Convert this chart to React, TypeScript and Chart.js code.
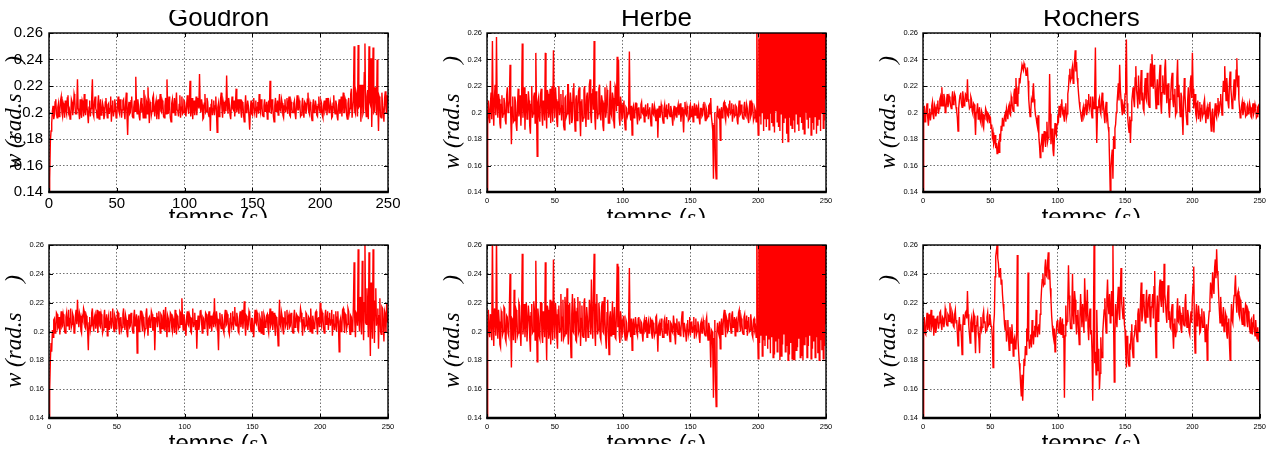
import React, { useEffect, useRef } from 'react';
import { Chart, registerables } from 'chart.js';

Chart.register(...registerables);

// Angular speed samples in milli rad/s, one sample every 0.5 s (t = 0 … 250 s)
const SAMPLE_PERIOD_S = 0.5;
const TIME_MIN = 0;
const TIME_MAX = 250;
const TIME_STEP = 50;
const W_MIN = 140;
const W_MAX = 260;
const W_STEP = 20;

const goudronTop = [
  0,150, 178,186, 192,201, 205,195, 198,208, 210,199, 196,204, 207,197, 201,209, 212,200,
  197,207, 205,196, 209,202, 199,211, 213,200, 202,195, 196,210, 208,198, 203,214, 211,199,
  199,206, 225,203, 201,195, 210,200, 196,209, 207,197, 214,202, 198,210, 205,199, 192,204,
  209,197, 203,211, 225,199, 197,208, 212,203, 201,196, 206,213, 195,204, 210,198, 200,207,
  204,195, 198,208, 211,202, 196,206, 207,199, 203,212, 193,205, 209,197, 201,210, 205,196,
  197,206, 212,201, 199,210, 206,196, 202,209, 210,200, 195,207, 215,198, 183,203, 208,199,
  200,209, 212,197, 196,204, 209,201, 227,206, 199,210, 205,197, 194,206, 211,200, 203,196,
  217,204, 196,210, 208,199, 219,203, 192,208, 206,198, 201,211, 213,202, 197,206, 209,195,
  202,210, 195,206, 214,201, 200,209, 207,197, 196,205, 211,199, 225,204, 199,212, 205,196,
  193,207, 210,200, 203,211, 198,206, 215,202, 201,197, 206,213, 196,204, 212,199, 200,209,
  208,200, 197,206, 213,203, 199,208, 224,197, 202,211, 195,205, 209,198, 204,212, 198,207,
  211,203, 229,205, 200,210, 206,195, 196,207, 214,200, 201,211, 208,199, 197,204, 186,206,
  210,198, 203,209, 198,205, 212,200, 185,204, 207,197, 201,210, 215,203, 196,208, 205,199,
  209,201, 228,207, 199,211, 206,198, 195,205, 212,203, 202,209, 197,206, 218,200, 204,210,
  199,206, 210,201, 196,208, 207,198, 193,204, 213,200, 201,209, 205,196, 187,202, 209,199,
  198,207, 211,200, 203,209, 196,204, 208,199, 214,203, 200,210, 206,198, 197,205, 210,201,
  202,208, 195,204, 209,200, 224,206, 199,210, 206,197, 193,205, 211,201, 203,209, 198,206,
  214,202, 201,210, 207,198, 196,205, 210,200, 204,211, 199,206, 212,198, 197,208, 205,200,
  200,207, 209,199, 195,206, 213,202, 202,209, 206,197, 198,205, 211,201, 196,208, 207,199,
  203,210, 215,201, 199,208, 206,197, 194,205, 210,200, 201,209, 205,198, 197,206, 212,202,
  200,209, 207,198, 196,205, 209,201, 203,211, 198,206, 211,200, 201,208, 205,196, 197,207,
  213,201, 199,209, 206,197, 194,205, 210,199, 202,212, 197,206, 215,200, 200,210, 208,198,
  195,207, 211,200, 203,214, 218,196, 196,209, 250,201, 199,215, 212,197, 251,204, 205,221,
  193,210, 221,199, 201,230, 252,203, 197,212, 217,195, 250,208, 206,241, 189,213, 249,200,
  201,219, 214,198, 240,206, 186,212, 210,197, 196,215, 205,200, 193,211, 216,203, 199,213,
  207,
];

const herbeTop = [
  0,190, 209,199, 192,206, 215,195, 254,203, 190,212, 221,198, 257,205, 196,214, 210,192,
  188,206, 213,196, 199,211, 207,194, 191,213, 219,200, 203,209, 236,198, 176,204, 212,193,
  194,212, 208,191, 186,205, 218,197, 201,213, 190,207, 252,196, 205,219, 187,209, 214,195,
  197,216, 209,190, 184,206, 220,196, 199,212, 215,192, 245,204, 167,208, 211,197, 193,214,
  218,198, 190,209, 206,194, 245,203, 188,217, 214,196, 201,218, 192,205, 220,193, 247,206,
  196,219, 210,193, 189,208, 220,198, 203,214, 194,205, 217,190, 187,211, 212,197, 199,221,
  221,200, 191,215, 208,192, 195,218, 222,199, 186,210, 213,194, 201,216, 219,197, 182,208,
  210,193, 196,217, 220,200, 189,212, 215,195, 203,221, 225,198, 192,214, 218,202, 254,197,
  187,216, 212,195, 199,218, 221,198, 194,213, 209,190, 186,207, 219,196, 201,217, 214,192,
  192,210, 224,199, 197,215, 211,193, 188,220, 218,201, 242,205, 240,196, 190,212, 206,195,
  196,207, 209,193, 187,204, 203,197, 199,206, 246,200, 194,205, 183,203, 205,196, 198,207,
  207,198, 191,203, 204,195, 196,206, 208,200, 199,204, 193,201, 206,197, 201,207, 195,202,
  204,196, 190,201, 207,199, 198,205, 202,194, 194,203, 181,200, 205,196, 199,206, 203,195,
  192,203, 206,197, 200,206, 195,202, 207,199, 197,205, 202,196, 190,201, 205,197, 199,204,
  196,203, 206,198, 201,207, 193,200, 204,196, 185,202, 208,199, 198,205, 202,194, 195,204,
  206,197, 199,205, 193,201, 207,198, 200,206, 196,202, 205,195, 191,203, 203,197, 198,206,
  208,199, 194,204, 202,196, 197,205, 206,199, 211,197, 192,186, 150,190, 200,160, 150,198,
  205,197, 196,203, 179,200, 204,196, 199,207, 208,197, 194,204, 203,198, 197,206, 209,199,
  200,207, 193,202, 206,197, 198,205, 204,194, 191,203, 209,198, 199,206, 202,196, 195,204,
  208,198, 197,206, 203,195, 192,204, 209,197, 199,207, 205,194, 196,203, 201,193, 275,204,
  183,256, 197,290, 191,295, 200,270, 186,300, 195,285, 189,288, 195,300, 187,265, 199,296,
  192,280, 190,300, 185,275, 201,295, 193,268, 189,297, 186,282, 199,300, 177,278, 192,293,
  196,285, 184,300, 178,290, 196,270, 190,298, 188,277, 194,300, 185,288, 199,296, 191,268,
  186,300, 197,283, 192,294, 187,276, 184,300, 200,287, 195,299, 188,272, 196,300, 183,280,
  192,298, 187,275, 197,290, 184,300, 190,283, 195,296, 186,278, 199,300, 188,291, 194,285,
  210,
];

const rochersTop = [
  0,198, 205,193, 196,203, 207,196, 190,199, 203,194, 199,205, 208,198, 195,206, 204,197,
  200,206, 209,199, 203,210, 212,205, 219,208, 205,214, 211,200, 202,209, 214,204, 207,212,
  210,205, 203,211, 216,206, 208,214, 212,204, 201,196, 186,203, 209,213, 215,207, 204,216,
  211,205, 207,214, 213,208, 225,210, 208,203, 204,212, 210,201, 199,207, 206,196, 183,200,
  201,207, 195,200, 204,194, 192,201, 199,190, 188,197, 196,203, 201,194, 193,199, 198,192,
  197,188, 191,182, 185,176, 178,183, 173,177, 169,172, 176,170, 184,178, 190,186, 196,190,
  192,197, 199,193, 203,200, 195,204, 206,199, 198,212, 209,203, 201,214, 218,207, 226,212,
  205,219, 214,226, 222,228, 231,236, 234,232, 237,235, 233,228, 230,234, 224,210, 203,197,
  200,210, 208,215, 222,210, 204,198, 196,192, 189,198, 182,175, 166,174, 178,184, 170,179,
  186,180, 174,185, 193,178, 181,190, 229,199, 176,184, 188,172, 167,179, 192,185, 183,191,
  198,192, 205,201, 196,206, 210,200, 202,197, 193,204, 207,196, 199,214, 218,228, 233,224,
  226,232, 235,222, 229,238, 247,231, 238,226, 221,214, 208,203, 200,196, 193,201, 204,197,
  199,206, 210,198, 202,209, 214,203, 206,212, 200,196, 212,207, 203,218, 249,205, 177,199,
  204,209, 211,201, 199,208, 215,204, 206,198, 192,203, 208,195, 197,189, 185,163, 140,158,
  166,172, 150,182, 173,188, 191,200, 206,214, 222,209, 236,218, 210,203, 198,206, 203,199,
  214,230, 255,207, 196,190, 185,197, 177,194, 208,214, 219,209, 204,226, 235,217, 212,203,
  228,213, 206,219, 232,209, 215,203, 201,218, 226,211, 209,230, 223,206, 204,229, 237,220,
  244,229, 218,236, 231,214, 203,217, 225,206, 212,227, 236,208, 199,215, 228,219, 214,233,
  240,221, 207,216, 222,203, 196,210, 215,225, 230,209, 204,213, 218,198, 200,226, 240,212,
  221,205, 197,215, 212,196, 183,208, 226,213, 204,197, 191,209, 219,201, 206,223, 228,211,
  245,218, 203,210, 214,199, 196,207, 209,195, 201,208, 193,203, 206,197, 199,207, 210,200,
  192,201, 204,195, 198,206, 208,194, 186,199, 203,192, 185,200, 207,198, 196,205, 211,199,
  201,208, 214,205, 198,212, 224,216, 235,221, 209,226, 218,207, 203,222, 231,219, 212,203,
  206,217, 225,209, 214,232, 241,219, 228,210, 203,196, 199,205, 208,198, 201,207, 205,197,
  198,204, 206,199, 200,207, 204,197, 196,203, 207,199, 201,206, 203,196, 197,204, 205,199,
  200,
];

const goudronBottom = [
  0,160, 180,192, 186,201, 196,208, 209,199, 200,213, 212,202, 203,210, 198,207, 214,203,
  204,212, 209,200, 199,210, 213,204, 206,215, 201,209, 216,203, 205,212, 210,199, 200,211,
  215,205, 222,209, 203,213, 211,201, 199,210, 208,216, 214,203, 202,211, 209,200, 187,206,
  210,201, 204,213, 216,205, 200,210, 212,202, 206,215, 199,208, 214,204, 203,212, 209,199,
  201,210, 215,203, 205,212, 197,208, 211,201, 207,214, 202,209, 216,204, 200,211, 209,202,
  205,214, 213,204, 198,209, 210,201, 203,212, 216,206, 201,211, 208,199, 196,207, 212,203,
  204,213, 209,201, 199,210, 215,204, 206,212, 185,207, 211,200, 203,214, 214,205, 200,210,
  208,199, 202,212, 216,206, 197,209, 210,203, 205,214, 212,201, 201,210, 187,204, 209,213,
  203,210, 214,205, 199,212, 211,202, 206,215, 201,208, 217,204, 196,211, 209,200, 204,213,
  212,203, 200,209, 207,199, 215,206, 198,211, 210,202, 203,214, 213,205, 223,208, 201,212,
  208,202, 197,210, 214,205, 204,212, 210,200, 199,209, 216,203, 206,213, 201,208, 188,205,
  211,201, 205,214, 215,207, 199,210, 209,202, 203,213, 212,204, 197,209, 214,202, 206,211,
  200,209, 211,203, 223,206, 204,214, 209,200, 187,208, 213,205, 202,212, 208,201, 199,210,
  215,204, 205,212, 210,200, 198,209, 213,203, 206,214, 201,210, 217,205, 204,213, 209,200,
  199,210, 214,203, 207,215, 202,209, 221,205, 197,211, 210,201, 205,214, 212,204, 200,209,
  209,201, 196,208, 215,206, 205,213, 211,202, 200,210, 208,199, 214,206, 198,212, 210,203,
  204,211, 212,202, 199,209, 216,204, 206,214, 201,208, 213,203, 197,210, 209,201, 190,207,
  222,205, 203,213, 210,201, 198,209, 214,204, 206,215, 201,210, 212,203, 204,213, 209,200,
  199,210, 215,203, 205,212, 211,201, 200,209, 208,216, 213,205, 197,208, 210,202, 204,213,
  212,204, 201,210, 209,200, 216,206, 199,211, 207,202, 203,213, 214,205, 198,209, 210,203,
  220,207, 204,213, 211,202, 199,210, 215,205, 206,214, 201,209, 213,204, 208,215, 197,208,
  212,201, 205,214, 200,210, 214,203, 186,207, 209,200, 203,215, 216,206, 199,212, 211,202,
  205,216, 214,203, 198,211, 210,200, 203,218, 248,207, 196,213, 212,204, 257,209, 200,224,
  211,198, 249,212, 194,220, 263,206, 205,230, 215,196, 255,210, 183,234, 207,195, 257,214,
  192,221, 230,204, 209,216, 188,211, 223,200, 198,217, 216,205, 193,214, 212,199, 219,208,
  206,
];

const herbeBottom = [
  0,193, 215,201, 196,212, 209,194, 270,205, 190,216, 213,197, 268,204, 195,215, 207,191,
  189,214, 212,198, 200,217, 216,195, 193,211, 210,199, 197,216, 240,202, 175,209, 208,194,
  229,203, 192,215, 213,197, 199,220, 218,200, 190,212, 254,198, 204,219, 196,208, 220,193,
  193,218, 211,196, 186,213, 219,199, 200,221, 214,194, 249,206, 179,216, 210,197, 195,220,
  220,198, 192,214, 208,196, 248,205, 180,218, 215,195, 199,222, 191,206, 221,194, 250,208,
  195,220, 212,196, 188,215, 218,199, 202,226, 193,210, 222,195, 197,224, 214,198, 230,203,
  191,218, 220,197, 182,212, 226,200, 199,223, 214,194, 193,216, 224,199, 201,221, 190,209,
  218,197, 196,220, 223,202, 193,217, 210,196, 200,222, 214,198, 236,205, 195,226, 254,200,
  190,219, 226,198, 201,220, 213,196, 194,217, 221,200, 199,224, 209,195, 188,213, 222,199,
  184,210, 214,197, 203,221, 198,206, 217,196, 195,215, 247,203, 245,198, 192,214, 208,197,
  199,210, 211,198, 194,208, 206,197, 200,211, 244,201, 196,209, 187,205, 209,198, 201,210,
  205,199, 197,209, 210,201, 199,207, 206,198, 193,205, 208,200, 201,210, 196,204, 207,199,
  200,209, 208,198, 195,206, 204,197, 199,210, 211,200, 186,204, 206,197, 200,209, 203,196,
  196,207, 209,199, 201,210, 197,205, 208,198, 193,206, 205,200, 199,211, 206,197, 191,205,
  209,200, 198,207, 204,197, 200,209, 214,202, 196,206, 206,199, 193,205, 208,198, 201,210,
  197,206, 207,199, 203,210, 195,204, 209,198, 200,207, 204,196, 192,205, 207,199, 199,208,
  205,198, 197,207, 210,200, 194,206, 203,196, 175,201, 200,188, 154,195, 208,165, 148,199,
  206,200, 198,207, 188,203, 209,198, 202,211, 215,203, 196,210, 208,200, 201,212, 213,204,
  199,211, 214,203, 204,210, 197,208, 209,200, 202,213, 215,204, 200,209, 206,199, 198,210,
  212,202, 203,211, 197,207, 210,200, 201,212, 206,198, 196,208, 209,201, 203,196, 280,203,
  181,268, 192,285, 197,296, 183,275, 194,300, 190,282, 197,300, 188,290, 195,268, 185,300,
  196,287, 182,295, 184,280, 193,270, 186,300, 195,290, 180,288, 183,300, 191,292, 198,276,
  186,295, 190,300, 180,268, 184,285, 192,300, 181,297, 180,278, 180,284, 187,300, 189,279,
  195,300, 182,290, 183,265, 180,300, 191,296, 196,272, 182,300, 190,294, 197,283, 181,299,
  188,286, 193,300, 182,277, 196,291, 185,300, 180,281, 194,298, 187,289, 181,300, 190,270,
  205,
];

const rochersBottom = [
  0,202, 210,199, 198,207, 213,201, 204,212, 200,208, 215,203, 205,211, 197,204, 209,199,
  203,210, 211,202, 206,213, 214,205, 201,210, 209,203, 207,216, 213,205, 204,212, 211,207,
  220,208, 206,214, 212,204, 203,212, 215,206, 208,199, 190,204, 210,201, 205,196, 184,203,
  212,205, 207,213, 214,209, 228,212, 204,198, 192,206, 209,200, 201,213, 211,197, 185,204,
  206,211, 199,195, 185,203, 210,201, 203,211, 214,206, 207,200, 201,210, 213,204, 205,212,
  209,204, 203,196, 175,205, 212,238, 252,256, 260,251, 247,238, 241,244, 233,236, 226,219,
  214,205, 201,208, 193,200, 208,195, 187,203, 199,192, 205,197, 183,194, 196,188, 190,199,
  253,195, 186,178, 172,163, 155,170, 152,166, 181,176, 190,184, 202,193, 241,196, 188,194,
  198,189, 208,199, 191,200, 204,196, 215,205, 196,203, 205,198, 212,220, 229,236, 240,232,
  233,244, 250,239, 238,248, 255,236, 243,230, 222,211, 204,198, 195,202, 186,194, 201,207,
  208,200, 199,206, 210,198, 203,209, 196,205, 154,197, 218,204, 207,221, 246,225, 213,202,
  202,216, 240,212, 205,228, 222,207, 198,211, 215,200, 191,209, 226,214, 203,219, 211,199,
  237,221, 207,214, 229,203, 194,210, 216,198, 201,185, 152,200, 262,178, 186,170, 215,192,
  173,188, 160,171, 196,184, 182,200, 208,215, 223,207, 199,224, 236,218, 212,226, 206,214,
  228,211, 262,206, 165,198, 219,209, 203,222, 231,213, 208,227, 244,220, 215,209, 224,205,
  201,186, 175,197, 193,178, 176,190, 189,199, 205,187, 182,195, 198,204, 208,197, 193,212,
  216,200, 205,222, 234,207, 211,226, 222,213, 206,220, 229,210, 214,223, 226,209, 203,217,
  218,226, 209,231, 242,206, 182,214, 225,207, 210,230, 236,222, 217,235, 228,213, 247,226,
  221,212, 206,224, 232,208, 214,203, 202,215, 219,199, 188,205, 209,196, 200,214, 223,207,
  206,218, 213,202, 199,211, 217,205, 204,219, 226,208, 203,215, 211,200, 198,209, 214,206,
  224,232, 245,201, 185,211, 219,204, 207,218, 212,199, 200,210, 216,203, 203,214, 209,193,
  197,205, 180,199, 208,214, 221,234, 230,223, 241,232, 226,244, 250,237, 257,242, 238,225,
  215,206, 224,212, 204,210, 217,200, 201,213, 211,198, 195,206, 209,192, 180,203, 219,208,
  206,219, 225,230, 239,221, 213,226, 228,212, 210,222, 220,209, 205,216, 216,204, 211,219,
  218,207, 203,214, 212,202, 199,208, 209,198, 206,212, 201,197, 208,200, 195,203, 193,199,
  202,
];

const TITLES = ['Goudron', 'Herbe', 'Rochers'];
const X_LABEL_MAIN = 'temps (';
const X_LABEL_UNIT = 's';
const X_LABEL_CLOSE = ')';
const Y_LABEL_MAIN = 'w (rad.s';
const Y_LABEL_CLOSE = ')';

const SANS = '"Liberation Sans", Arial, Helvetica, sans-serif';
const SERIF = '"Liberation Serif", "Times New Roman", serif';

type Box = { x: number; y: number; w: number; h: number };
type Area = { l: number; t: number; r: number; b: number };
type Spec = {
  key: string;
  title?: string;
  values: number[];
  box: Box;
  area: Area;
  big: boolean;
};

const COLS = [
  { x: 0, w: 430, l: 49, r: 388 },
  { x: 430, w: 438, l: 487, r: 826 },
  { x: 868, w: 402, l: 923, r: 1263 },
];
const ROWS = [
  { y: 10, h: 208, t: 33, b: 192 },
  { y: 232, h: 212, t: 245, b: 418 },
];

const seriesGrid = [
  [goudronTop, herbeTop, rochersTop],
  [goudronBottom, herbeBottom, rochersBottom],
];

const SPECS: Spec[] = [];
ROWS.forEach((row, ri) => {
  COLS.forEach((col, ci) => {
    SPECS.push({
      key: `p${ri}${ci}`,
      title: ri === 0 ? TITLES[ci] : undefined,
      values: seriesGrid[ri][ci],
      box: { x: col.x, y: row.y, w: col.w, h: row.h },
      area: { l: col.l, t: row.t, r: col.r, b: row.b },
      big: ri === 0 && ci === 0,
    });
  });
});

function makeDecorPlugin(spec: Spec) {
  return {
    id: 'decor-' + spec.key,
    afterDatasetsDraw(chart: any) {
      const { ctx, chartArea: a, scales } = chart;
      ctx.save();
      ctx.setLineDash([]);
      ctx.strokeStyle = '#000';
      ctx.lineWidth = 1;
      const tl = 4;
      ctx.beginPath();
      scales.x.ticks.forEach((tk: any) => {
        const px = Math.round(scales.x.getPixelForValue(tk.value)) + 0.5;
        ctx.moveTo(px, a.bottom);
        ctx.lineTo(px, a.bottom - tl);
        ctx.moveTo(px, a.top);
        ctx.lineTo(px, a.top + tl);
      });
      scales.y.ticks.forEach((tk: any) => {
        const py = Math.round(scales.y.getPixelForValue(tk.value)) + 0.5;
        ctx.moveTo(a.left, py);
        ctx.lineTo(a.left + tl, py);
        ctx.moveTo(a.right, py);
        ctx.lineTo(a.right - tl, py);
      });
      ctx.stroke();
      ctx.lineWidth = 1.4;
      ctx.strokeRect(a.left, a.top, a.right - a.left, a.bottom - a.top);
      ctx.lineWidth = 2.4;
      ctx.beginPath();
      ctx.moveTo(a.left - 0.7, a.bottom);
      ctx.lineTo(a.right + 0.7, a.bottom);
      ctx.stroke();
      ctx.restore();
    },
    afterDraw(chart: any) {
      const { ctx, chartArea: a } = chart;
      const cx = (a.left + a.right) / 2;
      const cy = (a.top + a.bottom) / 2;
      ctx.save();
      ctx.fillStyle = '#000';
      ctx.textBaseline = 'alphabetic';
      if (spec.title) {
        ctx.font = `26px ${SANS}`;
        ctx.textAlign = 'center';
        ctx.fillText(spec.title, cx, a.top - 7);
      }
      const xFont = `24px ${SANS}`;
      const xFontIt = `italic 24px ${SERIF}`;
      ctx.font = xFont;
      const w1 = ctx.measureText(X_LABEL_MAIN).width;
      const w3 = ctx.measureText(X_LABEL_CLOSE).width;
      ctx.font = xFontIt;
      const w2 = ctx.measureText(X_LABEL_UNIT).width + 2;
      let sx = cx - (w1 + w2 + w3) / 2;
      const by = a.bottom + 33;
      ctx.textAlign = 'left';
      ctx.font = xFont;
      ctx.fillText(X_LABEL_MAIN, sx, by);
      sx += w1;
      ctx.font = xFontIt;
      ctx.fillText(X_LABEL_UNIT, sx, by);
      sx += w2;
      ctx.font = xFont;
      ctx.fillText(X_LABEL_CLOSE, sx, by);
      ctx.translate(a.left - 28, cy);
      ctx.rotate(-Math.PI / 2);
      ctx.font = `italic 23px ${SERIF}`;
      ctx.textAlign = 'left';
      ctx.fillText(Y_LABEL_MAIN, -56.5, 0);
      ctx.textAlign = 'right';
      ctx.fillText(Y_LABEL_CLOSE, 56.5, 0);
      ctx.restore();
    },
  };
}

function Panel({ spec }: { spec: Spec }) {
  const ref = useRef<HTMLCanvasElement>(null);
  useEffect(() => {
    const canvas = ref.current;
    if (!canvas) return;
    const { box, area } = spec;
    const leftW = area.l - box.x;
    const topPad = area.t - box.y;
    const rightPad = box.x + box.w - area.r;
    const bottomH = box.y + box.h - area.b;
    const tickFont = { family: SANS, size: spec.big ? 15 : 7.5 };
    const sampleTimes = spec.values.map((_, i) => i * SAMPLE_PERIOD_S);
    const gridOpts = {
      color: 'rgba(0,0,0,0.7)',
      lineWidth: 0.8,
      drawTicks: false,
    };
    const chart = new Chart(canvas, {
      type: 'line',
      data: {
        datasets: [
          {
            data: spec.values.map((v, i) => ({ x: sampleTimes[i], y: v })),
            borderColor: '#ff0000',
            backgroundColor: '#ff0000',
            borderWidth: 1.4,
            pointRadius: 0,
            fill: false,
            tension: 0,
          },
        ],
      },
      options: {
        responsive: false,
        animation: false,
        devicePixelRatio: 1,
        layout: { padding: { left: 0, top: topPad, right: rightPad, bottom: 0 } },
        plugins: {
          legend: { display: false },
          tooltip: { enabled: false },
          title: { display: false },
        },
        scales: {
          x: {
            type: 'linear',
            min: TIME_MIN,
            max: TIME_MAX,
            afterFit: (s: any) => {
              s.height = bottomH;
            },
            ticks: {
              stepSize: TIME_STEP,
              font: tickFont,
              color: '#000',
              padding: spec.big ? 3 : 4,
              maxRotation: 0,
              autoSkip: false,
            },
            grid: gridOpts,
            border: { display: false, dash: [1.5, 2] },
          },
          y: {
            type: 'linear',
            min: W_MIN,
            max: W_MAX,
            afterFit: (s: any) => {
              s.width = leftW;
            },
            ticks: {
              stepSize: W_STEP,
              font: tickFont,
              color: '#000',
              padding: spec.big ? 6 : 5,
              callback: (v: any) => String(Number(v) / 1000),
            },
            grid: gridOpts,
            border: { display: false, dash: [1.5, 2] },
          },
        },
      } as any,
      plugins: [makeDecorPlugin(spec)],
    });
    return () => chart.destroy();
  }, [spec]);
  return (
    <canvas
      ref={ref}
      width={spec.box.w}
      height={spec.box.h}
      style={{
        position: 'absolute',
        left: spec.box.x,
        top: spec.box.y,
        width: spec.box.w,
        height: spec.box.h,
      }}
    />
  );
}

export default function App() {
  return (
    <div
      style={{
        position: 'absolute',
        left: 0,
        top: 0,
        width: 1270,
        height: 452,
        background: '#fff',
        overflow: 'hidden',
      }}
    >
      {SPECS.map((s) => (
        <Panel key={s.key} spec={s} />
      ))}
    </div>
  );
}
